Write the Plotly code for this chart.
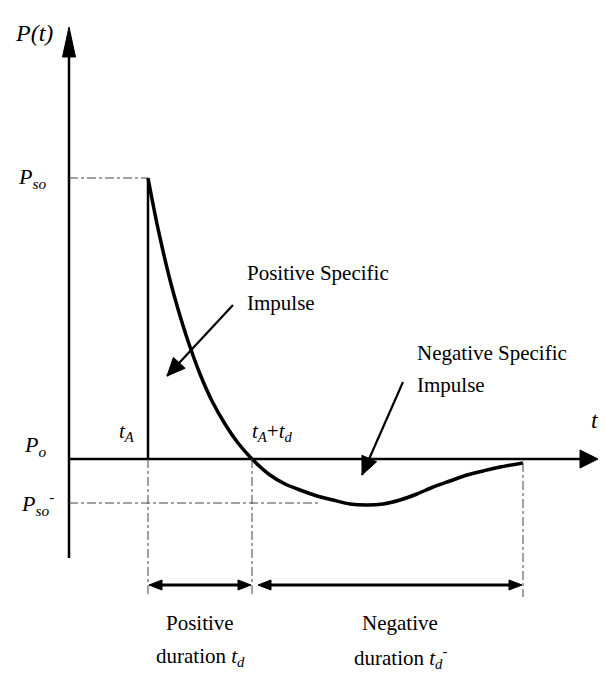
import math
import plotly.graph_objects as go

# Schematic values (1 unit = 1 px, origin at the axes crossing)
t_A = 79
t_d = 104
t_neg_end = 454
P_so = 281
P_so_neg = -44

# Pressure-time history
curve_t = [79, 83, 88, 94, 101, 109, 119, 131, 143, 156, 169, 183,
           201, 216, 231, 248, 264, 281, 298, 314, 331, 348, 364, 381, 398, 414, 431, 454]
curve_P = [281, 260, 235, 208, 179, 150, 118, 85, 58, 35, 16, 0,
           -16, -25, -31, -37, -41, -45, -46, -45, -41, -35, -28, -22, -16, -12, -8, -4]

FONT = "Liberation Serif"
BLACK = "#000000"
GREY = "#444444"

# the page body has an 8 px margin, so the ranges are shifted by that much
PAGE_OFFSET = 8

fig = go.Figure()

# main curve
fig.add_trace(go.Scatter(x=curve_t, y=curve_P, mode="lines",
                         line=dict(color=BLACK, width=3.5, shape="spline", smoothing=0.6)))
# shock front jump
fig.add_trace(go.Scatter(x=[t_A, t_A], y=[0, P_so], mode="lines",
                         line=dict(color=BLACK, width=2.5)))

# axes
y_bottom, y_tip = -99, 432
x_tip = 529
fig.add_trace(go.Scatter(x=[0, 0], y=[y_bottom, y_tip - 25], mode="lines",
                         line=dict(color=BLACK, width=2.5)))
fig.add_trace(go.Scatter(x=[0, x_tip - 15], y=[0, 0], mode="lines",
                         line=dict(color=BLACK, width=2.5)))

# dash-dot guide lines
guide = dict(color=GREY, width=1, dash="dashdot")
dim_bottom = -138
fig.add_trace(go.Scatter(x=[0, t_A], y=[P_so, P_so], mode="lines", line=guide))
fig.add_trace(go.Scatter(x=[0, 250], y=[P_so_neg, P_so_neg], mode="lines", line=guide))
for tx, top in [(t_A, 0), (t_A + t_d, 0), (t_neg_end, curve_P[-1])]:
    fig.add_trace(go.Scatter(x=[tx, tx], y=[top, dim_bottom], mode="lines", line=guide))

# duration arrows
dim_y = -126
fig.add_trace(go.Scatter(x=[t_A + 8, t_A + t_d - 8], y=[dim_y, dim_y], mode="lines",
                         line=dict(color=BLACK, width=3)))
fig.add_trace(go.Scatter(x=[t_A + t_d + 14, t_neg_end - 8], y=[dim_y, dim_y], mode="lines",
                         line=dict(color=BLACK, width=3)))

# impulse pointer lines
pos_tail, pos_tip = (164, 154), (98, 83)
neg_tail, neg_tip = (334, 77), (293, -16)
for tail, tip in [(pos_tail, pos_tip), (neg_tail, neg_tip)]:
    fig.add_trace(go.Scatter(x=[tail[0], tip[0]], y=[tail[1], tip[1]], mode="lines",
                             line=dict(color=BLACK, width=2.2)))


def head(tip, frm, length, half):
    dx, dy = tip[0] - frm[0], tip[1] - frm[1]
    n = math.hypot(dx, dy)
    ux, uy = dx / n, dy / n
    bx, by = tip[0] - ux * length, tip[1] - uy * length
    px, py = -uy * half, ux * half
    return dict(type="path", xref="x", yref="y",
                path=f"M{tip[0]},{tip[1]} L{bx + px},{by + py} L{bx - px},{by - py} Z",
                fillcolor=BLACK, line=dict(color=BLACK, width=1))


shapes = [
    head((0, y_tip), (0, 0), 30, 6.5),
    head((x_tip, 0), (0, 0), 18, 9),
    head((t_A + 1, dim_y), (t_A + t_d, dim_y), 13, 5),
    head((t_A + t_d - 1, dim_y), (t_A, dim_y), 13, 5),
    head((t_A + t_d + 6, dim_y), (t_neg_end, dim_y), 13, 5),
    head((t_neg_end - 1, dim_y), (t_A + t_d, dim_y), 13, 5),
    head(pos_tip, pos_tail, 18, 8),
    head(neg_tip, neg_tail, 18, 8),
]

labels = [
    ("<i>P(t)</i>", -35, 426, 24, "center"),
    ("<i>P<sub>so</sub></i>", -37, 281, 22, "center"),
    ("<i>P<sub>o</sub></i>", -34, 13, 22, "center"),
    ("<i>P<sub>so</sub><sup>-</sup></i>", -32, -44, 22, "center"),
    ("<i>t<sub>A</sub></i>", 58, 27, 21, "center"),
    ("<i>t<sub>A</sub></i>+<i>t<sub>d</sub></i>", 203, 27, 21, "center"),
    ("<i>t</i>", 526, 39, 24, "center"),
    ("Positive Specific", 176, 186, 21, "left"),
    ("Impulse", 176, 156, 21, "left"),
    ("Negative Specific", 346, 106, 21, "left"),
    ("Impulse", 346, 74, 21, "left"),
    ("Positive", 131, -164, 21, "center"),
    ("duration <i>t<sub>d</sub></i>", 131, -198, 21, "center"),
    ("Negative", 331, -164, 21, "center"),
    ("duration <i>t<sub>d</sub><sup>-</sup></i>", 331, -198, 21, "center"),
]
annotations = [
    dict(text=txt, x=x, y=y, xref="x", yref="y", showarrow=False,
         xanchor=anc, yanchor="middle", align=anc,
         font=dict(family=FONT, size=sz, color=BLACK))
    for txt, x, y, sz, anc in labels
]

fig.update_layout(
    width=606, height=673, autosize=False,
    margin=dict(l=0, r=0, t=0, b=0),
    paper_bgcolor="white", plot_bgcolor="white",
    showlegend=False,
    xaxis=dict(range=[-69 + PAGE_OFFSET, 537 + PAGE_OFFSET], visible=False, fixedrange=True),
    yaxis=dict(range=[-214 - PAGE_OFFSET, 459 - PAGE_OFFSET], visible=False, fixedrange=True),
    shapes=shapes,
    annotations=annotations,
)

fig.write_html("out.html")
